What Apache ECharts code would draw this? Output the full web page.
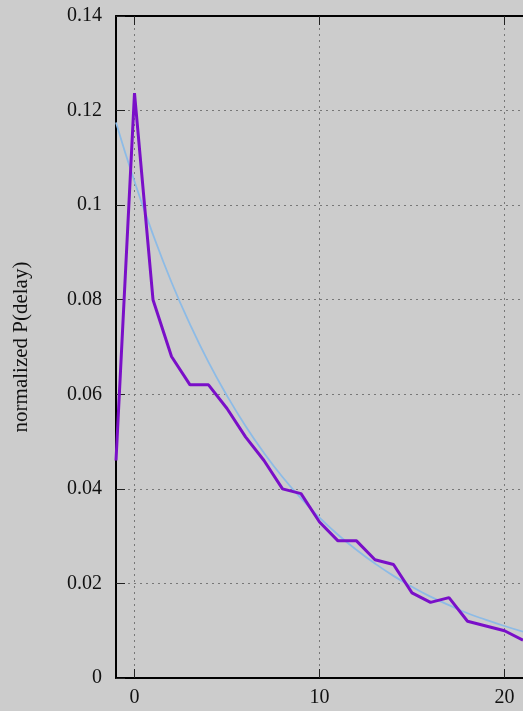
<!DOCTYPE html>
<html>
<head>
<meta charset="utf-8">
<script src="https://cdn.jsdelivr.net/npm/echarts@6/dist/echarts.min.js"></script>
<style>
html,body{margin:0;padding:0;background:#cccccc;}
#c{width:523px;height:711px;}
</style>
</head>
<body>
<div id="c"></div>
<script>
const xValues = [-1,0,1,2,3,4,5,6,7,8,9,10,11,12,13,14,15,16,17,18,19,20,21];
const measured = [0.046,0.1237,0.080,0.068,0.062,0.062,0.057,0.051,0.046,0.040,0.039,0.033,0.029,0.029,0.025,0.024,0.018,0.016,0.017,0.012,0.011,0.010,0.008];
const fitted = [0.1175,0.1050,0.0938,0.0837,0.0748,0.0668,0.0597,0.0533,0.0476,0.0425,0.0380,0.0339,0.0303,0.0271,0.0242,0.0216,0.0193,0.0172,0.0154,0.0137,0.0123,0.0110,0.0098];
const xTicks = [0,10,20];
const yLabel = 'normalized P(delay)';

const font = 'Liberation Serif, Times New Roman, serif';
const chart = echarts.init(document.getElementById('c'));
const gridLine = {show:true, lineStyle:{color:'#777', type:[2,4], width:1}};
chart.setOption({
  backgroundColor:'#cccccc',
  animation:false,
  grid:{left:116, top:16, right:-3, bottom:33, containLabel:false},
  xAxis:[{
    type:'value', min:-1, max:21,
    axisLine:{show:true, onZero:false, lineStyle:{color:'#000', width:2}},
    axisTick:{show:true, inside:true, length:9, customValues:xTicks, lineStyle:{color:'#222', width:1}},
    axisLabel:{customValues:xTicks, color:'#111', fontFamily:font, fontSize:20, margin:10},
    splitLine:gridLine
  },{
    type:'value', min:-1, max:21, position:'top',
    axisLine:{show:true, onZero:false, lineStyle:{color:'#000', width:2}},
    axisTick:{show:true, inside:true, length:9, customValues:xTicks, lineStyle:{color:'#222', width:1}},
    axisLabel:{show:false},
    splitLine:{show:false}
  }],
  yAxis:{
    type:'value', min:0, max:0.14, interval:0.02,
    name:yLabel, nameLocation:'middle', nameGap:84, nameRotate:90,
    nameTextStyle:{fontFamily:font, fontSize:21, color:'#111'},
    axisLine:{show:true, onZero:false, lineStyle:{color:'#000', width:2}},
    axisTick:{show:true, inside:true, length:9, lineStyle:{color:'#222', width:1}},
    axisLabel:{color:'#111', fontFamily:font, fontSize:20, margin:14},
    splitLine:gridLine
  },
  series:[{
    type:'line', smooth:true, symbol:'none',
    data:xValues.map((x,i)=>[x,fitted[i]]),
    lineStyle:{color:'#8dbbe6', width:1.8}, z:2
  },{
    type:'line', symbol:'none',
    data:xValues.map((x,i)=>[x,measured[i]]),
    lineStyle:{color:'#7a0fc8', width:3}, z:3
  }]
});
</script>
</body>
</html>
